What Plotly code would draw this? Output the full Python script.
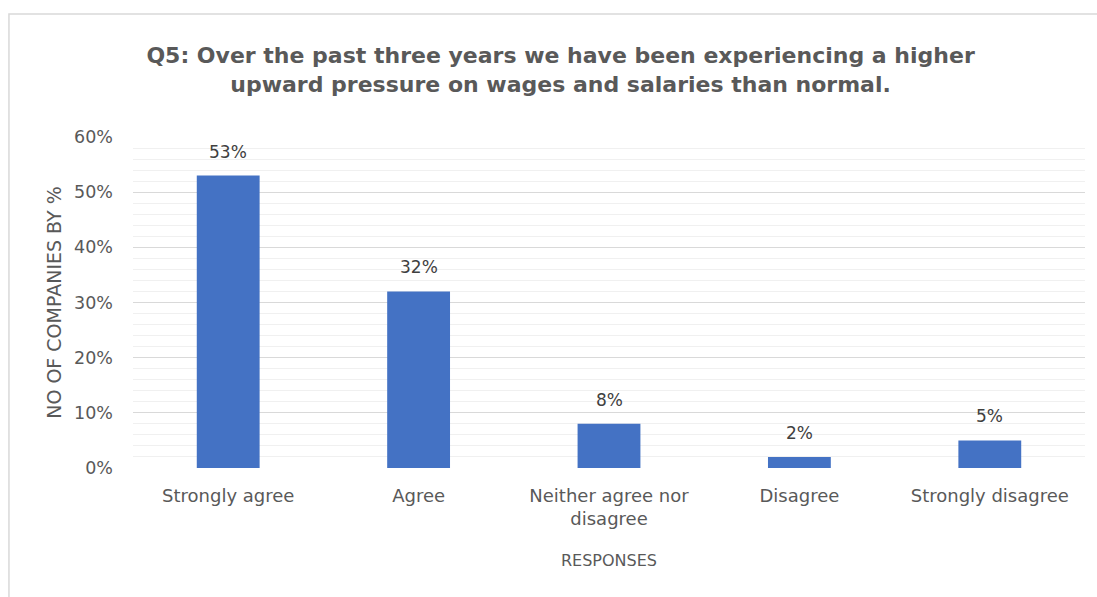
import plotly.graph_objects as go

# Survey responses and share of companies (%)
categories = ["Strongly agree", "Agree", "Neither agree nor<br>disagree", "Disagree", "Strongly disagree"]
shares = [53, 32, 8, 2, 5]
value_labels = ["53%", "32%", "8%", "2%", "5%"]
y_ticks = [0, 10, 20, 30, 40, 50, 60]
y_tick_labels = ["0%", "10%", "20%", "30%", "40%", "50%", "60%"]

FONT = "DejaVu Sans"
GREY = "#595959"

fig = go.Figure()
fig.add_trace(go.Bar(
    x=categories,
    y=shares,
    marker=dict(color="#4472C4", line=dict(width=0)),
    hoverinfo="skip",
))

# value labels above each bar
for cat, val, lab in zip(categories, shares, value_labels):
    fig.add_annotation(
        x=cat, y=val, text=lab, showarrow=False,
        yanchor="middle", yshift=24,
        font=dict(family=FONT, size=17, color="#404040"),
    )

# outer chart frame
fig.add_shape(
    type="rect", xref="paper", yref="paper",
    x0=-0.1303, x1=1.05, y0=-0.45, y1=1.3716,
    line=dict(color="#d9d9d9", width=1.5), fillcolor="rgba(0,0,0,0)",
    layer="below",
)

fig.update_layout(
    width=1097, height=597,
    margin=dict(l=133, r=12, t=137, b=129),
    paper_bgcolor="white", plot_bgcolor="white",
    showlegend=False,
    bargap=0.67,
    font=dict(family=FONT, color=GREY),
    title=dict(
        text="<b>Q5: Over the past three years we have been experiencing a higher<br>upward pressure on wages and salaries than normal.</b>",
        x=0.511, xref="container", xanchor="center",
        y=0.894, yref="container", yanchor="middle",
        font=dict(family=FONT, size=22, color=GREY),
    ),
    xaxis=dict(
        showline=False, showgrid=False, zeroline=False,
        ticks="", ticklabelstandoff=15,
        tickfont=dict(family=FONT, size=18, color=GREY),
        title=dict(text="RESPONSES", font=dict(family=FONT, size=16, color=GREY), standoff=26),
        automargin=False,
    ),
    yaxis=dict(
        range=[0, 60],
        tickmode="array", tickvals=y_ticks, ticktext=y_tick_labels,
        showgrid=True, gridcolor="#d9d9d9", gridwidth=1,
        minor=dict(dtick=2, showgrid=True, gridcolor="#f0f0f0", gridwidth=1),
        zeroline=False, showline=False, ticks="",
        ticklabelstandoff=19,
        tickfont=dict(family=FONT, size=17.5, color=GREY),
        title=dict(text="NO OF COMPANIES BY %", font=dict(family=FONT, size=19, color=GREY), standoff=7),
        automargin=False,
    ),
)

fig.write_html("out.html")
